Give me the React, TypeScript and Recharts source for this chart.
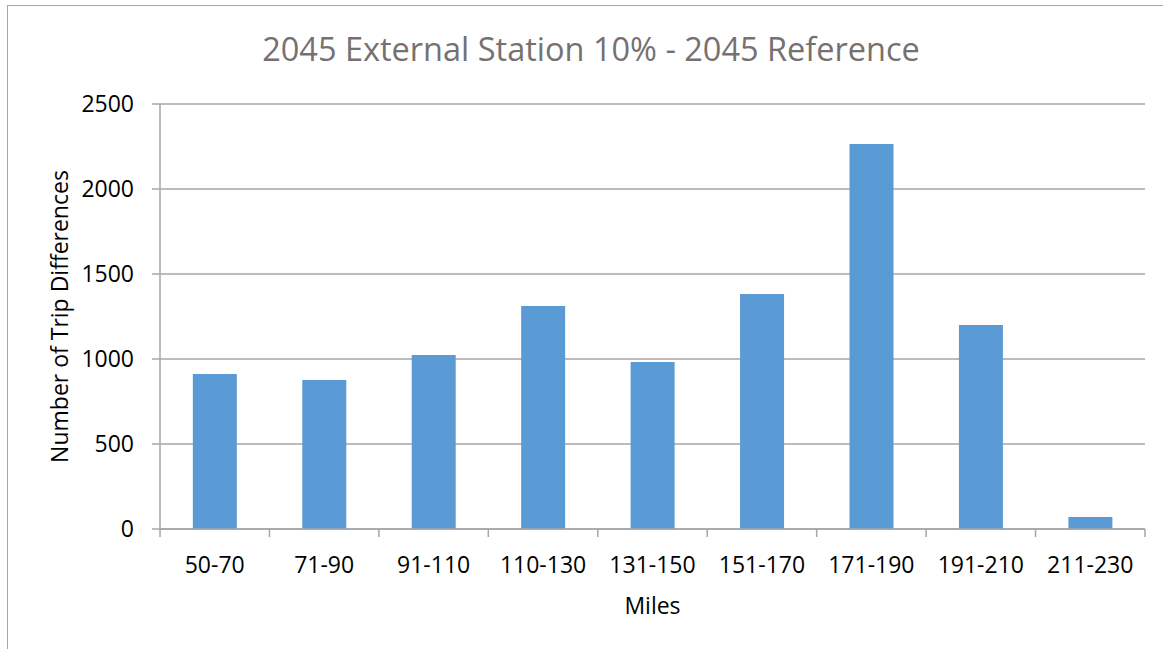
import React from 'react';
import { BarChart, Bar, XAxis, YAxis, CartesianGrid, Label } from 'recharts';

// Trip differences per mileage band
const bands = ['50-70', '71-90', '91-110', '110-130', '131-150', '151-170', '171-190', '191-210', '211-230'];
const tripDiffs = [912, 876, 1024, 1312, 982, 1382, 2265, 1200, 71];
const yTicks = [0, 500, 1000, 1500, 2000, 2500];

const data = bands.map((band, i) => ({ band, value: tripDiffs[i] }));

const FONT = '"Open Sans", sans-serif';
const GRID = '#a6a6a6';
const TICK_SIZE = 8;
const TICK_MARGIN = 20;

// category label plus tick marks on the band boundaries
const BandTick = (props: any) => {
  const { x, y, payload, index, visibleTicksCount } = props;
  const half = payload.offset ?? 0;
  const axisY = y - TICK_MARGIN - TICK_SIZE;
  const isLast = index === visibleTicksCount - 1;
  return (
    <g>
      <line x1={x - half} x2={x - half} y1={axisY} y2={axisY + TICK_SIZE} stroke={GRID} strokeWidth={1.5} />
      {isLast && (
        <line x1={x + half} x2={x + half} y1={axisY} y2={axisY + TICK_SIZE} stroke={GRID} strokeWidth={1.5} />
      )}
      <text x={x} y={y} dy="0.71em" textAnchor="middle" fill="#000" fontSize={23}>
        {payload.value}
      </text>
    </g>
  );
};

export default function App() {
  return (
    <div style={{ position: 'absolute', left: 0, top: 0, width: 1163, height: 649, overflow: 'hidden', background: '#fff' }}>
      {/* outer frame */}
      <div style={{ position: 'absolute', left: 7, top: 5, width: 1180, height: 680, border: `1.5px solid ${GRID}` }} />
      <div
        style={{
          position: 'absolute',
          left: 0,
          width: 1182,
          top: 26,
          textAlign: 'center',
          fontFamily: FONT,
          fontSize: 32.5,
          color: '#757171',
          whiteSpace: 'nowrap',
        }}
      >
        2045 External Station 10% - 2045 Reference
      </div>
      <BarChart
        width={1163}
        height={649}
        data={data}
        margin={{ top: 104, right: 18, bottom: 30, left: 80 }}
        barCategoryGap="30%"
        style={{ position: 'absolute', left: 0, top: 0, fontFamily: FONT }}
      >
        <CartesianGrid vertical={false} stroke={GRID} strokeWidth={1.5} />
        <XAxis
          dataKey="band"
          height={90}
          tickLine={false}
          tickSize={TICK_SIZE}
          tickMargin={TICK_MARGIN}
          axisLine={{ stroke: GRID, strokeWidth: 1.5 }}
          tick={<BandTick />}
          interval={0}
        >
          <Label value="Miles" position="insideBottom" offset={5} style={{ fill: '#000', fontSize: 23 }} />
        </XAxis>
        <YAxis
          width={80}
          domain={[0, 2500]}
          ticks={yTicks}
          tickSize={8}
          tickMargin={18}
          axisLine={{ stroke: GRID, strokeWidth: 1.5 }}
          tickLine={{ stroke: GRID, strokeWidth: 1.5 }}
          tick={{ fill: '#000', fontSize: 23 }}
        >
          <Label
            value="Number of Trip Differences"
            angle={-90}
            position="insideLeft"
            offset={-20}
            style={{ fill: '#000', fontSize: 23, textAnchor: 'middle' }}
          />
        </YAxis>
        <Bar dataKey="value" fill="#5b9bd5" isAnimationActive={false} />
      </BarChart>
    </div>
  );
}
